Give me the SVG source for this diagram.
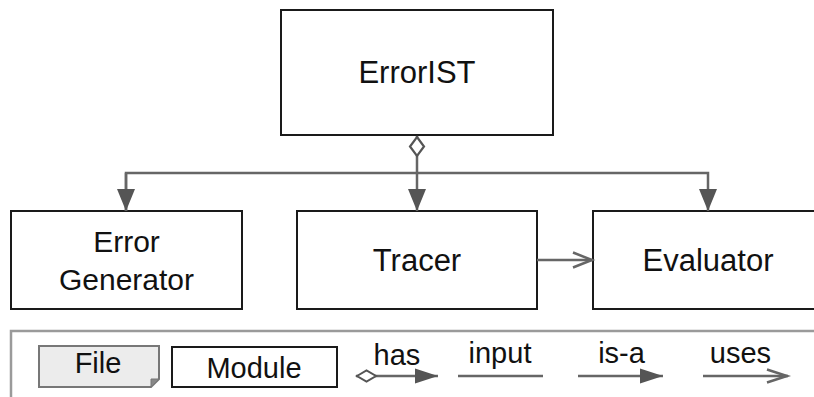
<svg xmlns="http://www.w3.org/2000/svg" width="814" height="397" viewBox="0 0 814 397">
  <style>
    .box { fill: #ffffff; stroke: #1a1a1a; stroke-width: 2; }
    .label { font-family: "Liberation Sans", Arial, sans-serif; fill: #111111; text-anchor: middle; }
    .big { font-size: 31px; }
    .mid { font-size: 30px; }
    .leg { font-size: 29px; }
    .link { fill: none; stroke: #666666; stroke-width: 2.5; }
  </style>
  <defs>
    <!-- filled head for "has" / "is-a" -->
    <marker id="head" markerUnits="userSpaceOnUse" markerWidth="22" markerHeight="18" refX="22" refY="9" orient="auto" overflow="visible">
      <path d="M0,0 L22,9 L0,18 Z" fill="#555555"/>
    </marker>
    <!-- open head for "uses" -->
    <marker id="open" markerUnits="userSpaceOnUse" markerWidth="22" markerHeight="17" refX="22" refY="8.5" orient="auto" overflow="visible">
      <path d="M2,1 L21,8.5 L2,16" fill="none" stroke="#666666" stroke-width="2.5"/>
    </marker>
    <!-- aggregation diamond -->
    <marker id="diamond" markerUnits="userSpaceOnUse" markerWidth="20" markerHeight="16" refX="-1" refY="8" orient="auto" overflow="visible">
      <path d="M0,8 L9.5,1 L19,8 L9.5,15 Z" fill="#ffffff" stroke="#555555" stroke-width="2.2"/>
    </marker>
    <!-- smaller legend variants -->
    <marker id="headS" markerUnits="userSpaceOnUse" markerWidth="23" markerHeight="15" refX="23" refY="7.5" orient="auto" overflow="visible">
      <path d="M0,0 L23,7.5 L0,15 Z" fill="#555555"/>
    </marker>
    <marker id="openS" markerUnits="userSpaceOnUse" markerWidth="23" markerHeight="15" refX="23" refY="7.5" orient="auto" overflow="visible">
      <path d="M2,1 L22,7.5 L2,14" fill="none" stroke="#666666" stroke-width="2.5"/>
    </marker>
    <marker id="diamondS" markerUnits="userSpaceOnUse" markerWidth="21" markerHeight="12" refX="0" refY="6" orient="auto" overflow="visible">
      <path d="M1,6 L10.5,0.5 L20,6 L10.5,11.5 Z" fill="#ffffff" stroke="#555555" stroke-width="2"/>
    </marker>
  </defs>

  <rect width="814" height="397" fill="#ffffff"/>

  <!-- modules -->
  <g id="errorist">
    <rect class="box" x="281" y="10" width="272" height="125"/>
    <text class="label big" x="417" y="83">ErrorIST</text>
  </g>
  <g id="error-generator">
    <rect class="box" x="11" y="211" width="231" height="98"/>
    <text class="label mid" x="126.5" y="252">Error</text>
    <text class="label mid" x="126.5" y="290">Generator</text>
  </g>
  <g id="tracer">
    <rect class="box" x="297" y="211" width="240" height="98"/>
    <text class="label big" x="417" y="271">Tracer</text>
  </g>
  <g id="evaluator">
    <rect class="box" x="593" y="211" width="230" height="98"/>
    <text class="label big" x="708" y="271">Evaluator</text>
  </g>

  <!-- connectors -->
  <g id="connectors">
    <path class="link" d="M126,211 V173 H708 V211" marker-end="url(#head)"/>
    <path class="link" d="M126,173 V211" marker-end="url(#head)"/>
    <path class="link" d="M417,136 V211" marker-start="url(#diamond)" marker-end="url(#head)"/>
    <path class="link" d="M537,260 H593" marker-end="url(#open)"/>
  </g>

  <!-- legend -->
  <g id="legend">
    <rect x="11" y="331" width="820" height="80" fill="none" stroke="#9a9a9a" stroke-width="2.5"/>
    <g id="legend-file">
      <path d="M39,346 H159 V379 L151,387 H39 Z" fill="#ececec" stroke="#777777" stroke-width="2"/>
      <path d="M159,379 L151,387 L151,379 Z" fill="#888888" stroke="#777777" stroke-width="1"/>
      <text class="label leg" x="98" y="373">File</text>
    </g>
    <g id="legend-module">
      <rect class="box" x="172" y="347" width="165" height="40"/>
      <text class="label leg" x="254" y="378">Module</text>
    </g>
    <g id="legend-has">
      <path class="link" d="M356,376 H438" marker-start="url(#diamondS)" marker-end="url(#headS)"/>
      <text class="label leg" x="397" y="365">has</text>
    </g>
    <g id="legend-input">
      <path class="link" d="M458,376 H543"/>
      <text class="label leg" x="500" y="363">input</text>
    </g>
    <g id="legend-is-a">
      <path class="link" d="M578,376 H663" marker-end="url(#headS)"/>
      <text class="label leg" x="621.5" y="363">is-a</text>
    </g>
    <g id="legend-uses">
      <path class="link" d="M703,376 H788" marker-end="url(#openS)"/>
      <text class="label leg" x="740.5" y="363">uses</text>
    </g>
  </g>
</svg>
